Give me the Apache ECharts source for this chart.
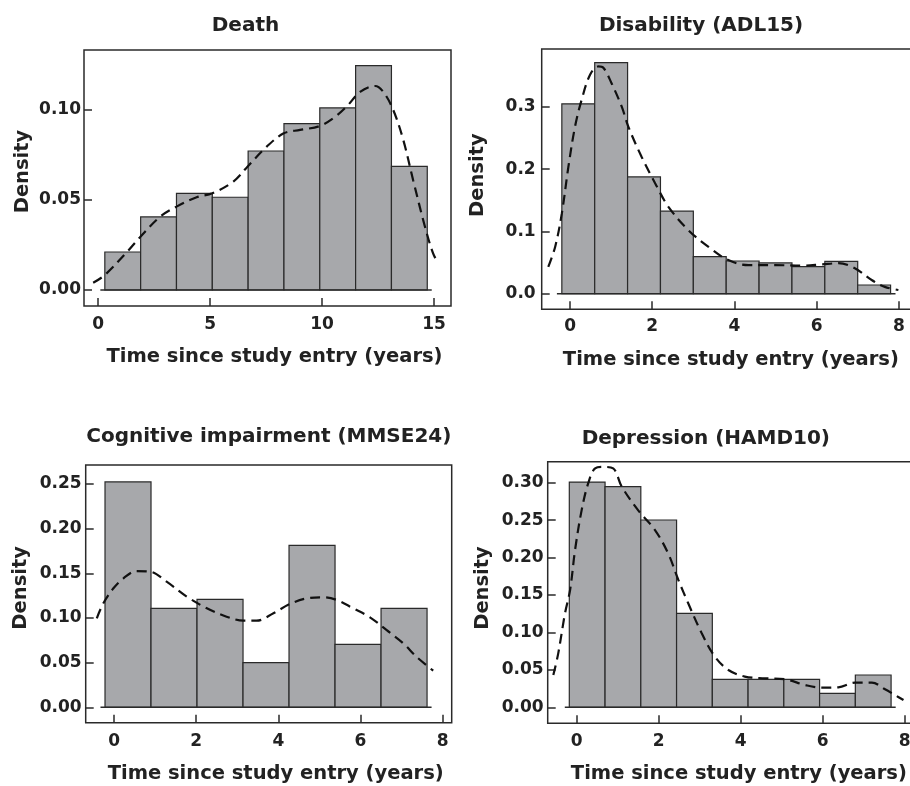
<!DOCTYPE html>
<html>
<head>
<meta charset="utf-8">
<script src="https://cdn.jsdelivr.net/npm/echarts@6/dist/echarts.min.js"></script>
<style>
  html, body { margin: 0; padding: 0; background: #ffffff; overflow: hidden; width: 910px; height: 786px; }
  #chart { width: 940px; height: 786px; }
</style>
</head>
<body>
<div id="chart"></div>
<script>
// ---------- text ----------
const panelTitles = ['Death', 'Disability (ADL15)', 'Cognitive impairment (MMSE24)', 'Depression (HAMD10)'];
const xAxisTitle = 'Time since study entry (years)';
const yAxisTitle = 'Density';

// ---------- Death ----------
const deathBinStart = 0.3;
const deathBinWidth = 1.6;
const deathHeights = [0.0211, 0.0406, 0.0537, 0.0515, 0.0772, 0.0924, 0.1011, 0.1246, 0.0687];
const deathCurveX = [-0.22, 0.3, 1.28, 1.89, 2.77, 3.5, 4.4, 5.1, 6.04, 6.67, 7.53, 8.29, 9.02, 9.88, 10.5, 11.1, 11.7, 12.37, 12.74, 13.18, 13.63, 14.07, 14.6, 14.97, 15.2];
const deathCurveY = [0.004, 0.0083, 0.021, 0.0296, 0.0407, 0.0463, 0.0515, 0.0537, 0.0602, 0.0685, 0.0796, 0.087, 0.0889, 0.091, 0.0954, 0.1019, 0.110, 0.1133, 0.110, 0.100, 0.0833, 0.061, 0.035, 0.020, 0.0148];
const deathBaseline = [0.1, 14.9];
const deathXTicks = [0, 5, 10, 15];
const deathYTicks = [0, 0.05, 0.10];

// ---------- Disability (ADL15) ----------
const disabBinStart = -0.2;
const disabBinWidth = 0.8;
const disabHeights = [0.305, 0.371, 0.1876, 0.1325, 0.0595, 0.0526, 0.0494, 0.0434, 0.052, 0.014];
const disabCurveX = [-0.53, -0.36, -0.2, -0.04, 0.12, 0.28, 0.49, 0.69, 0.81, 1.01, 1.26, 1.42, 1.74, 2.07, 2.39, 2.88, 3.36, 3.85, 4.34, 4.99, 5.64, 6.12, 6.53, 6.93, 7.34, 7.66, 7.99];
const disabCurveY = [0.043, 0.076, 0.129, 0.204, 0.268, 0.311, 0.352, 0.365, 0.363, 0.338, 0.30, 0.268, 0.220, 0.1775, 0.140, 0.102, 0.0756, 0.054, 0.046, 0.046, 0.045, 0.047, 0.049, 0.041, 0.022, 0.011, 0.006];
const disabBaseline = [-0.32, 7.92];
const disabXTicks = [0, 2, 4, 6, 8];
const disabYTicks = [0, 0.1, 0.2, 0.3];

// ---------- Cognitive impairment (MMSE24) ----------
const cogBinStart = -0.22;
const cogBinWidth = 1.12;
const cogHeights = [0.2523, 0.1109, 0.1209, 0.0500, 0.1814, 0.0705, 0.1109];
const cogCurveX = [-0.42, -0.26, -0.02, 0.23, 0.55, 0.88, 1.28, 1.77, 2.26, 2.74, 3.15, 3.47, 3.88, 4.28, 4.69, 5.09, 5.42, 5.82, 6.23, 6.63, 7.04, 7.36, 7.77];
const cogCurveY = [0.0997, 0.1165, 0.133, 0.1445, 0.1526, 0.1519, 0.1407, 0.1239, 0.1109, 0.1015, 0.097, 0.097, 0.1053, 0.1157, 0.122, 0.1232, 0.1202, 0.1109, 0.1008, 0.0866, 0.0717, 0.0567, 0.041];
const cogBaseline = [-0.33, 7.73];
const cogXTicks = [0, 2, 4, 6, 8];
const cogYTicks = [0, 0.05, 0.10, 0.15, 0.20, 0.25];

// ---------- Depression (HAMD10) ----------
const depBinStart = -0.18;
const depBinWidth = 0.872;
const depHeights = [0.3008, 0.2946, 0.2501, 0.1255, 0.0374, 0.0374, 0.0372, 0.0187, 0.0431];
const depCurveX = [-0.57, -0.45, -0.285, -0.16, -0.04, 0.12, 0.28, 0.45, 0.65, 0.89, 1.1, 1.5, 1.91, 2.23, 2.48, 2.72, 3.05, 3.37, 3.7, 4.1, 4.59, 5.08, 5.57, 5.98, 6.38, 6.79, 7.2, 7.52, 7.76, 7.97];
const depCurveY = [0.043, 0.072, 0.1255, 0.157, 0.21, 0.263, 0.299, 0.319, 0.321, 0.319, 0.2946, 0.263, 0.2367, 0.2056, 0.17, 0.1389, 0.0988, 0.0676, 0.0498, 0.041, 0.0387, 0.0374, 0.0298, 0.0262, 0.0267, 0.0329, 0.0329, 0.024, 0.0164, 0.0097];
const depBaseline = [-0.29, 7.78];
const depXTicks = [0, 2, 4, 6, 8];
const depYTicks = [0, 0.05, 0.10, 0.15, 0.20, 0.25, 0.30];

// ---------- layout (pixels / axis extents) ----------
// right-hand panels: the frame runs past the picture's right edge, as in the reference
const panels = [
  { start: deathBinStart, width: deathBinWidth, heights: deathHeights, cx: deathCurveX, cy: deathCurveY, base: deathBaseline, xt: deathXTicks, yt: deathYTicks, dec: 2,
    grid: { left: 84, top: 50, width: 367, height: 256 }, xr: [-0.63, 15.76], yr: [-0.0089, 0.1333],
    title: { x: 245.5, y: 16 }, xName: { shift: 7 }, yName: { gap: 51, shift: 6.5 }, yLabMargin: 3, xLabMargin: 10 },
  { start: disabBinStart, width: disabBinWidth, heights: disabHeights, cx: disabCurveX, cy: disabCurveY, base: disabBaseline, xt: disabXTicks, yt: disabYTicks, dec: 1,
    grid: { left: 541.7, top: 49, width: 378.3, height: 260.3 }, xr: [-0.69, 8.516], yr: [-0.025, 0.393],
    title: { x: 701, y: 16 }, xName: { shift: 0 }, yName: { gap: 54, shift: 4 }, yLabMargin: 6, xLabMargin: 9 },
  { start: cogBinStart, width: cogBinWidth, heights: cogHeights, cx: cogCurveX, cy: cogCurveY, base: cogBaseline, xt: cogXTicks, yt: cogYTicks, dec: 2,
    grid: { left: 85.7, top: 465, width: 366, height: 257.7 }, xr: [-0.69, 8.22], yr: [-0.0172, 0.2713],
    title: { x: 268.8, y: 427 }, xName: { shift: 7 }, yName: { gap: 54.5, shift: 6 }, yLabMargin: 4, xLabMargin: 10 },
  { start: depBinStart, width: depBinWidth, heights: depHeights, cx: depCurveX, cy: depCurveY, base: depBaseline, xt: depXTicks, yt: depYTicks, dec: 2,
    grid: { left: 547.7, top: 461.7, width: 372.3, height: 261.6 }, xr: [-0.707, 8.373], yr: [-0.0214, 0.328],
    title: { x: 705.8, y: 429 }, xName: { shift: 5 }, yName: { gap: 55, shift: 4.5 }, yLabMargin: 4, xLabMargin: 9.5 }
];

const FONT = 'DejaVu Sans';
const INK = '#222222';
const LINE = '#2a2a2a';
const BAR_FILL = '#a7a8ab';

const chart = echarts.init(document.getElementById('chart'), null, { renderer: 'canvas' });

const grids = [], xAxes = [], yAxes = [], series = [], titles = [];

panels.forEach((p, i) => {
  grids.push(Object.assign({ show: true, borderColor: LINE, borderWidth: 1.5, backgroundColor: 'transparent', containLabel: false }, p.grid));

  titles.push({
    text: panelTitles[i], left: p.title.x, top: p.title.y, textAlign: 'center', padding: 0,
    textStyle: { fontFamily: FONT, fontWeight: 'bold', fontSize: 20, color: INK }
  });

  xAxes.push({
    type: 'value', gridIndex: i, min: p.xr[0], max: p.xr[1],
    splitLine: { show: false },
    axisLine: { show: false, onZero: false },
    axisTick: { show: true, inside: true, length: 8, customValues: p.xt, lineStyle: { color: LINE, width: 1.5 } },
    axisLabel: { customValues: p.xt, margin: p.xLabMargin, fontFamily: FONT, fontWeight: 'bold', fontSize: 17, color: INK,
      formatter: v => String(Math.round(v)) },
    name: xAxisTitle, nameLocation: 'middle', nameGap: 41,
    nameTextStyle: { fontFamily: FONT, fontWeight: 'bold', fontSize: 19.5, color: INK,
      padding: p.xName.shift >= 0 ? [0, 0, 0, 2 * p.xName.shift] : [0, -2 * p.xName.shift, 0, 0] }
  });

  yAxes.push({
    type: 'value', gridIndex: i, min: p.yr[0], max: p.yr[1],
    splitLine: { show: false },
    axisLine: { show: false, onZero: false },
    axisTick: { show: true, inside: true, length: 8, customValues: p.yt, lineStyle: { color: LINE, width: 1.5 } },
    axisLabel: { customValues: p.yt, margin: p.yLabMargin, fontFamily: FONT, fontWeight: 'bold', fontSize: 17, color: INK,
      formatter: v => v.toFixed(p.dec) },
    name: yAxisTitle, nameLocation: 'middle', nameGap: p.yName.gap,
    nameTextStyle: { fontFamily: FONT, fontWeight: 'bold', fontSize: 19.5, color: INK, padding: [0, 0, 0, 2 * p.yName.shift] }
  });

  const binData = p.heights.map((h, k) => [p.start + k * p.width, p.start + (k + 1) * p.width, h]);
  series.push({
    type: 'custom', xAxisIndex: i, yAxisIndex: i, silent: true, z: 2,
    data: binData, encode: { x: [0, 1], y: 2 },
    renderItem: (params, api) => {
      const p0 = api.coord([api.value(0), 0]);
      const p1 = api.coord([api.value(1), api.value(2)]);
      return {
        type: 'rect',
        shape: { x: p0[0], y: p1[1], width: p1[0] - p0[0], height: p0[1] - p1[1] },
        style: { fill: BAR_FILL, stroke: LINE, lineWidth: 1.2 }
      };
    }
  });

  series.push({
    type: 'line', xAxisIndex: i, yAxisIndex: i, silent: true, z: 3,
    data: p.base.map(v => [v, 0]), showSymbol: false, symbol: 'none',
    lineStyle: { color: LINE, width: 1.5 }
  });

  series.push({
    type: 'line', xAxisIndex: i, yAxisIndex: i, silent: true, z: 4,
    data: p.cx.map((v, k) => [v, p.cy[k]]), smooth: 0.35, showSymbol: false, symbol: 'none',
    lineStyle: { color: '#111111', width: 2.2, type: [10, 6] }
  });
});

chart.setOption({
  backgroundColor: '#ffffff',
  animation: false,
  title: titles,
  grid: grids,
  xAxis: xAxes,
  yAxis: yAxes,
  series: series
});
</script>
</body>
</html>
